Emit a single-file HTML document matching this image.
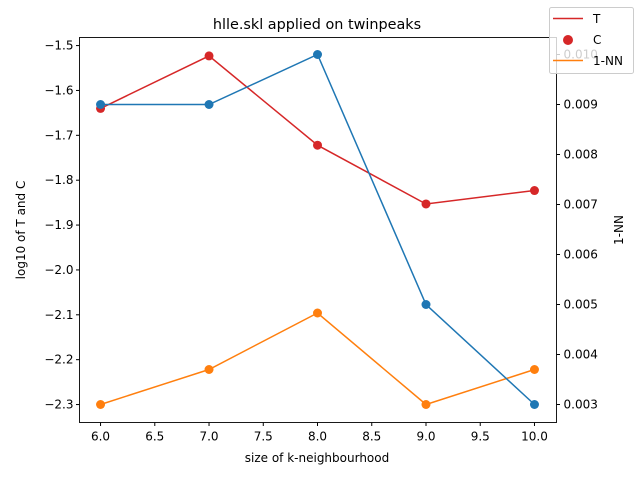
<!DOCTYPE html>
<html><head><meta charset="utf-8"><style>
body{margin:0;background:#fff}
svg text{font-family:"DejaVu Sans","Liberation Sans",sans-serif;font-size:12px;fill:#000}
</style></head><body>
<svg id="chart" width="640" height="480" xmlns="http://www.w3.org/2000/svg">
<text x="317" y="29" text-anchor="middle" style="font-size:14.4px">hlle.skl applied on twinpeaks</text>
<g id="grid"></g>
<g id="marks"></g>
<rect x="79.5" y="37.5" width="477" height="385" fill="none" stroke="#000" stroke-width="0.9"/>
<text x="317" y="462" text-anchor="middle">size of k-neighbourhood</text>
<text transform="translate(25,230) rotate(-90)" text-anchor="middle">log10 of T and C</text>
<text transform="translate(623,230) rotate(-90)" text-anchor="middle">1-NN</text>
<g>
<rect x="549.5" y="7.5" width="84" height="66" rx="2" fill="#fff" fill-opacity="0.8" stroke="#ccc"/>
<line x1="553" y1="18.5" x2="583" y2="18.5" stroke="#d62728" stroke-width="1.5"/>
<text x="593" y="23">T</text>
<circle cx="568" cy="40" r="5" fill="#d62728"/>
<text x="593" y="44">C</text>
<line x1="553" y1="60.5" x2="583" y2="60.5" stroke="#ff7f0e" stroke-width="1.5"/>
<text x="593" y="65">1-NN</text>
</g>
</svg>
<script>
const kValues=[6,7,8,9,10];
const tcValues=[-1.64,-1.523,-1.722,-1.853,-1.823];
const blueValues=[0.009,0.009,0.010,0.005,0.003];
const nnValues=[0.003,0.0037,0.00483,0.003,0.0037];
const xTicks=[6.0,6.5,7.0,7.5,8.0,8.5,9.0,9.5,10.0];
const yLeftTicks=[-1.5,-1.6,-1.7,-1.8,-1.9,-2.0,-2.1,-2.2,-2.3];
const yRightTicks=[0.003,0.004,0.005,0.006,0.007,0.008,0.009,0.010];
const NS="http://www.w3.org/2000/svg";
const X0=79.5,X1=556.5,Y0=37.5,Y1=422.5;
function sx(v){return X0+(v-5.806)/(10.203-5.806)*(X1-X0);}
function syL(v){return Y1-(v-(-2.340))/(-1.482-(-2.340))*(Y1-Y0);}
function syR(v){return Y1-(v-0.00264)/(0.01034-0.00264)*(Y1-Y0);}
const grid=document.getElementById('grid'),marks=document.getElementById('marks');
function mk(tag,attrs,parent){const e=document.createElementNS(NS,tag);for(const k in attrs)e.setAttribute(k,attrs[k]);parent.appendChild(e);return e;}
xTicks.forEach(t=>{const x=sx(t);
 const l=mk('line',{x1:x,x2:x,y1:Y1,y2:Y1+3.5,stroke:'#000'},grid);
 
 
 const tx=mk('text',{x:x,y:Y1+18,'text-anchor':'middle'},grid);tx.textContent=t.toFixed(1);
 
 });
yLeftTicks.forEach(t=>{const y=syL(t);
 const l=mk('line',{x1:X0-3.5,x2:X0,y1:y,y2:y,stroke:'#000'},grid);
 
 
 const tx=mk('text',{x:X0-6,y:y+4,'text-anchor':'end'},grid);tx.textContent=t.toFixed(1).replace('-','\u2212');
 
 });
yRightTicks.forEach(t=>{const y=syR(t);
 const l=mk('line',{x1:X1,x2:X1+3.5,y1:y,y2:y,stroke:'#000'},grid);
 
 
 const tx=mk('text',{x:X1+7,y:y+4},grid);tx.textContent=t.toFixed(3);
 
 });
function series(vals,sy,color,name){
 const pts=vals.map((v,i)=>sx(kValues[i])+','+sy(v)).join(' ');
 const pl=mk('polyline',{points:pts,fill:'none',stroke:color,'stroke-width':1.5},marks);
 
 
 vals.forEach((v,i)=>{const c=mk('circle',{cx:sx(kValues[i]),cy:sy(v),r:4.5,fill:color},marks);
  
  });
}
series(tcValues,syL,'#d62728','t-c');
series(nnValues,syR,'#ff7f0e','one-nn');
series(blueValues,syR,'#1f77b4','blue-series');
</script>
</body></html>
